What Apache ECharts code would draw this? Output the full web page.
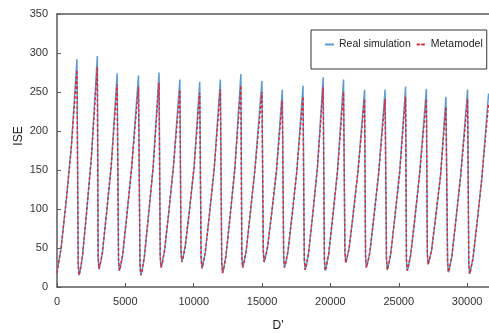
<!DOCTYPE html>
<html>
<head>
<meta charset="utf-8">
<script src="https://cdn.jsdelivr.net/npm/echarts@6/dist/echarts.min.js"></script>
<style>
html,body{margin:0;padding:0;background:#fff;}
#chart{width:489px;height:333px;}
</style>
</head>
<body>
<div id="chart"></div>
<script>
// D' values (x)
const D = [0,300,700,1050,1460,1550,
 1610,1690,1860,2160,2510,2950,3010,
 3070,3150,3320,3620,3970,4400,4500,
 4560,4640,4810,5110,5460,5960,6070,
 6130,6210,6380,6680,7030,7465,7550,
 7610,7690,7860,8160,8510,8990,9070,
 9130,9210,9380,9680,10030,10440,10540,
 10600,10680,10850,11150,11500,11950,12050,
 12110,12190,12360,12660,13010,13450,13520,
 13580,13660,13830,14130,14480,14990,15090,
 15150,15230,15400,15700,16050,16480,16580,
 16640,16720,16890,17190,17540,17995,18090,
 18150,18230,18400,18700,19050,19470,19560,
 19620,19700,19870,20170,20520,20960,21060,
 21120,21200,21370,21670,22020,22500,22570,
 22630,22710,22880,23180,23530,24000,24100,
 24160,24240,24410,24710,25060,25500,25560,
 25620,25700,25870,26170,26520,27020,27090,
 27150,27230,27400,27700,28050,28450,28570,
 28630,28710,28880,29180,29530,30035,30120,
 30180,30260,30430,30730,31080,31570];
// Real simulation ISE
const realISE = [18,50,115,180,292,29,
 15,20,39,95,165,296,37,
 23,28,44,94,156,274,35,
 21,26,42,92,153,271,29,
 15,20,37,89,153,275,39,
 25,30,46,93,153,266,46,
 32,37,52,97,154,263,38,
 24,29,45,93,152,266,32,
 18,23,40,90,152,273,39,
 25,30,45,93,151,264,46,
 32,37,51,94,148,253,39,
 25,30,45,91,148,258,36,
 22,27,43,92,153,269,35,
 21,26,42,90,149,266,45,
 31,36,50,94,149,253,39,
 25,30,44,90,146,253,36,
 22,27,42,89,146,257,35,
 21,26,41,87,144,254,43,
 29,34,47,90,142,244,33,
 19,24,39,86,143,253,31,
 17,22,37,83,140,248];
// Metamodel ISE
const metaISE = [18,50,115,180,278,29,
 15,20,39,95,165,282,37,
 23,28,44,94,156,260,35,
 21,26,42,92,153,257,29,
 15,20,37,89,153,262,39,
 25,30,46,93,153,253,46,
 32,37,52,97,154,249,38,
 24,29,45,93,152,253,32,
 18,23,40,90,152,258,39,
 25,30,45,93,151,250,46,
 32,37,51,94,148,239,39,
 25,30,45,91,148,244,36,
 22,27,43,92,153,256,35,
 21,26,42,90,149,250,45,
 31,36,50,94,149,241,39,
 25,30,44,90,146,241,36,
 22,27,42,89,146,244,35,
 21,26,41,87,144,241,43,
 29,34,47,90,142,231,33,
 19,24,39,86,143,241,31,
 17,22,37,83,140,236];
const seriesNames = ['Real simulation','Metamodel'];
const yTicks = [0,50,100,150,200,250,300,350];
const xTicks = [0,5000,10000,15000,20000,25000,30000];

const chart = echarts.init(document.getElementById('chart'), null, {renderer:'canvas'});
const font = 'Liberation Sans, Arial, sans-serif';
const axisCol = '#5a5a5a';
chart.setOption({
  animation:false,
  backgroundColor:'#fff',
  grid:{left:57, top:14, right:0, bottom:46, containLabel:false},
  legend:{
    data:seriesNames, left:311, top:30, orient:'horizontal',
    itemWidth:9, itemHeight:1.6, itemGap:5,
    padding:[9,4,19,13], borderColor:'#333', borderWidth:1,
    textStyle:{fontSize:10.5, color:'#222', fontFamily:font}
  },
  xAxis:[{
    type:'value', min:xTicks[0], max:31600, interval:5000,
    axisLine:{onZero:false, lineStyle:{color:axisCol, width:1.5}},
    axisTick:{inside:true, length:4, lineStyle:{color:axisCol}},
    axisLabel:{margin:9, fontSize:11, color:'#333', fontFamily:font, showMaxLabel:false,
      formatter:v=>String(v)},
    splitLine:{show:false}
  },{
    type:'value', position:'top', min:0, max:31600,
    axisLine:{show:true, onZero:false, lineStyle:{color:axisCol, width:1.5}},
    axisTick:{show:false}, axisLabel:{show:false}, splitLine:{show:false}
  }],
  yAxis:{
    type:'value', min:yTicks[0], max:yTicks[yTicks.length-1], interval:50,
    axisLine:{show:true, onZero:false, lineStyle:{color:axisCol, width:1.5}},
    axisTick:{show:true, inside:true, length:4, lineStyle:{color:axisCol}},
    axisLabel:{margin:9, fontSize:11, color:'#333', fontFamily:font, formatter:v=>String(v)},
    splitLine:{show:false}
  },
  graphic:[
    {type:'text', x:19, y:136, rotation:Math.PI/2,
     style:{text:'ISE', font:'12px '+font, fill:'#222', textAlign:'center', textVerticalAlign:'middle'}},
    {type:'text', x:278, y:326,
     style:{text:"D'", font:'12px '+font, fill:'#222', textAlign:'center', textVerticalAlign:'middle'}}
  ],
  series:[{
    name:seriesNames[0], type:'line', xAxisIndex:0, symbol:'none', smooth:false,
    legendIcon:'path://M0,0H10V1H0Z',
    data:D.map((d,i)=>[d, realISE[i]]),
    lineStyle:{color:'#5b9bd5', width:1.5},
    itemStyle:{color:'#5b9bd5'}
  },{
    name:seriesNames[1], type:'line', xAxisIndex:0, symbol:'none', smooth:false,
    legendIcon:'path://M0,0H2V1H0ZM3,0H5V1H3ZM6,0H8V1H6ZM9,0H11V1H9Z',
    data:D.map((d,i)=>[d, metaISE[i]]),
    lineStyle:{color:'#e3262f', width:1.4, type:[3,2]},
    itemStyle:{color:'#e3262f'}
  }]
});
</script>
</body>
</html>
